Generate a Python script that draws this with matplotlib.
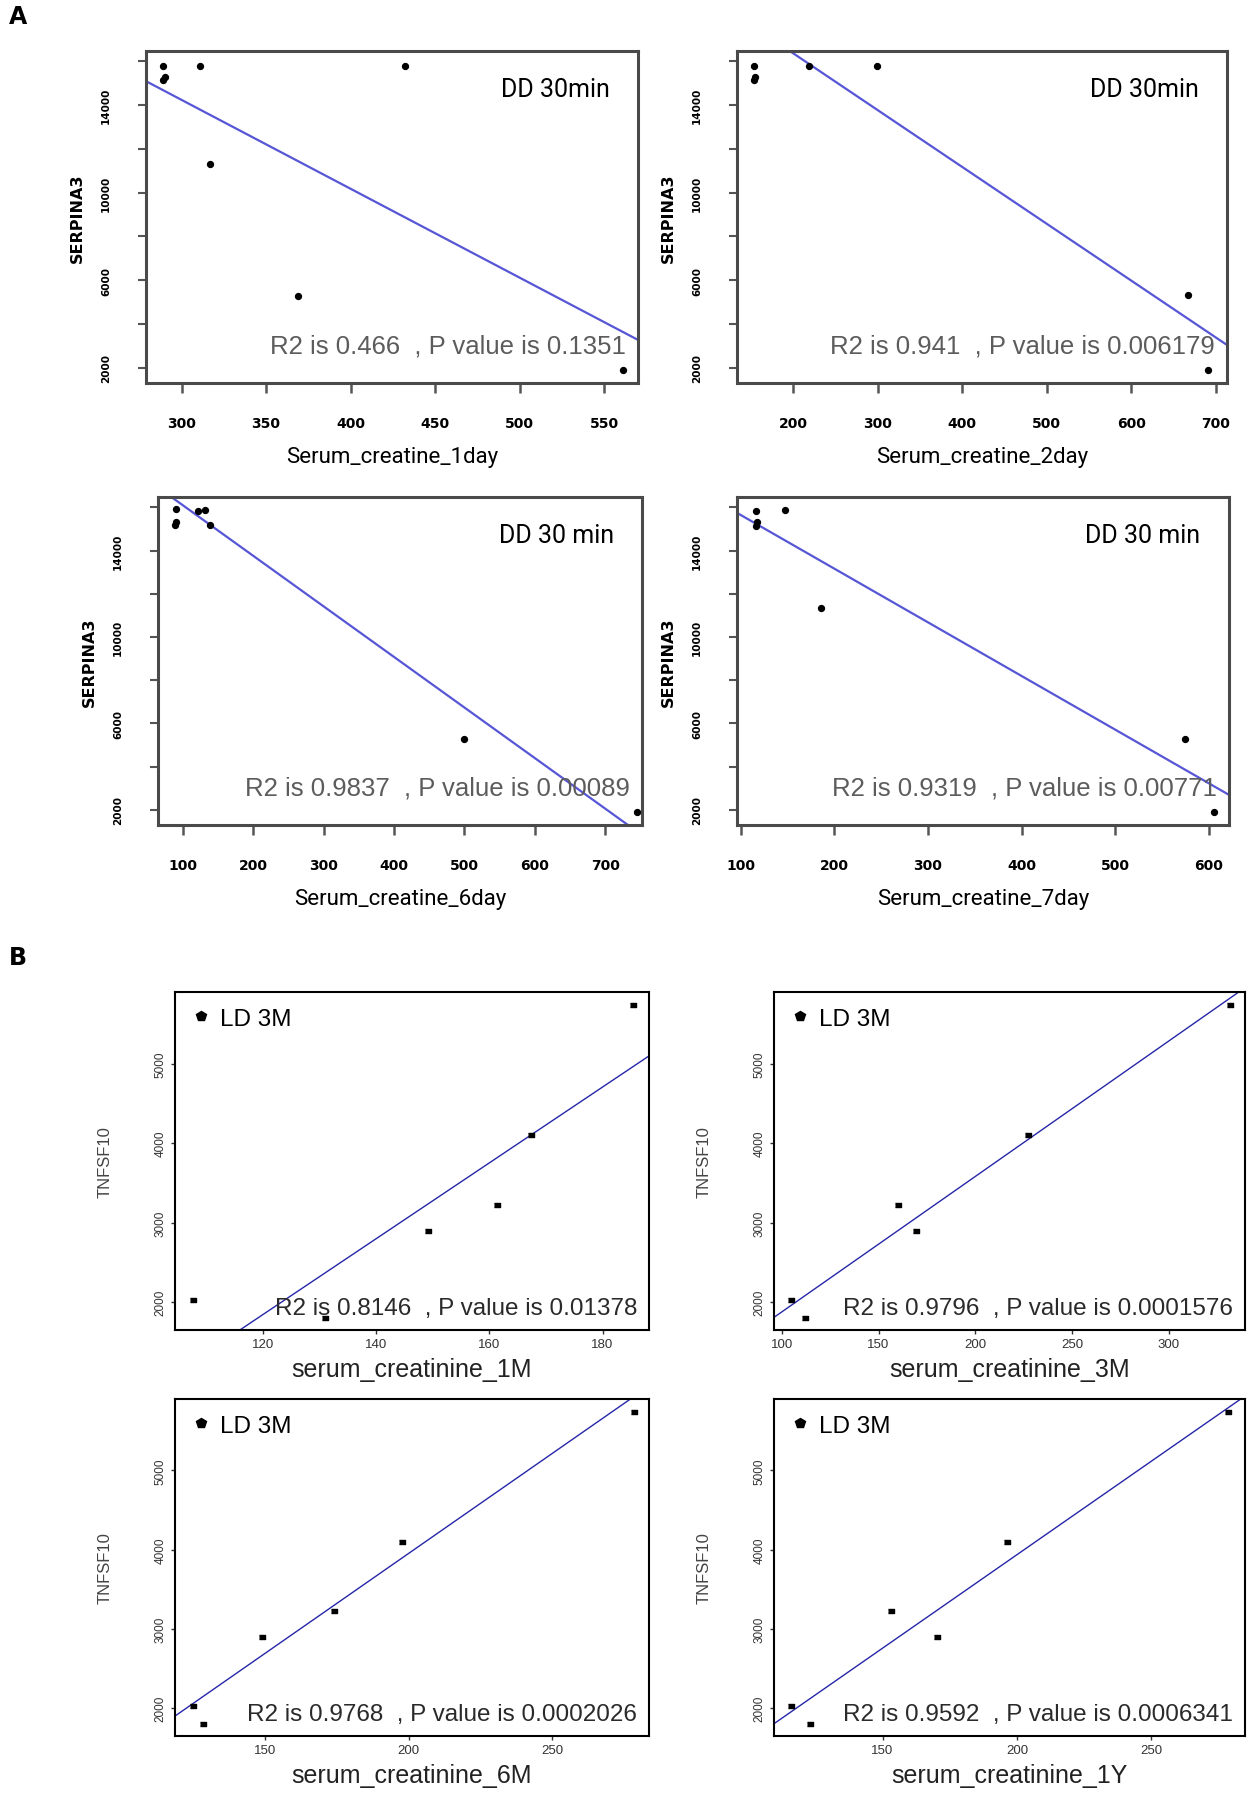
import matplotlib
matplotlib.use('Agg')
import matplotlib.pyplot as plt
from matplotlib.lines import Line2D
import numpy as np

# ---- panel A: SERPINA3 vs serum creatine (DD 30 min) ----
a1_x = [289, 289, 290, 311, 317, 369, 432, 561]
a1_y = [15800, 15150, 15300, 15800, 11300, 5300, 15800, 1890]
a2_x = [154, 154, 155, 219, 299, 667, 690]
a2_y = [15800, 15150, 15300, 15800, 15800, 5310, 1890]
a3_x = [91, 89, 90, 122, 132, 139, 500, 745]
a3_y = [15930, 15200, 15300, 15820, 15860, 15190, 5300, 1890]
a4_x = [116, 116, 117, 147, 186, 575, 606]
a4_y = [15820, 15150, 15300, 15900, 11330, 5270, 1890]
a_slope = [-40.65, -26.0, -23.42, -24.83]
a_icpt = [26441, 21576, 18446, 18129]
a_xlim = [(279, 570), (133.6, 713), (65, 752), (96, 621.6)]
a_xticks = [[300, 350, 400, 450, 500, 550], [200, 300, 400, 500, 600, 700],
            [100, 200, 300, 400, 500, 600, 700], [100, 200, 300, 400, 500, 600]]
a_yticks = [2000, 4000, 6000, 8000, 10000, 12000, 14000, 16000]
a_ylabels = ['2000', '', '6000', '', '10000', '', '14000', '']
a_stats = ['R2 is 0.466  , P value is 0.1351', 'R2 is 0.941  , P value is 0.006179',
           'R2 is 0.9837  , P value is 0.00089', 'R2 is 0.9319  , P value is 0.00771']
a_tags = ['DD 30min', 'DD 30min', 'DD 30 min', 'DD 30 min']
a_xlab = ['Serum_creatine_1day', 'Serum_creatine_2day', 'Serum_creatine_6day', 'Serum_creatine_7day']

# ---- panel B: TNFSF10 vs serum creatinine (LD 3M) ----
tnfsf10 = [2030, 1805, 2900, 3222, 4100, 5740]
b1_x = [107.7, 130.9, 149.1, 161.3, 167.4, 185.4]
b2_x = [104.6, 112.0, 169.2, 159.8, 227.4, 331.3]
b3_x = [124.9, 128.3, 149.0, 173.9, 197.8, 278.6]
b4_x = [116.1, 123.0, 170.2, 153.2, 196.3, 278.7]
b_slope = [47.7, 17.04, 25.22, 23.57]
b_icpt = [-3881, 173, -1092, -778]
b_xlim = [(104.5, 188.2), (96, 339.3), (118.7, 283.7), (109.6, 284.9)]
b_xticks = [[120, 140, 160, 180], [100, 150, 200, 250, 300], [150, 200, 250], [150, 200, 250]]
b_yticks = [2000, 3000, 4000, 5000]
b_stats = ['R2 is 0.8146  , P value is 0.01378', 'R2 is 0.9796  , P value is 0.0001576',
           'R2 is 0.9768  , P value is 0.0002026', 'R2 is 0.9592  , P value is 0.0006341']
b_xlab = ['serum_creatinine_1M', 'serum_creatinine_3M', 'serum_creatinine_6M', 'serum_creatinine_1Y']

W, H = 1251, 1806
fig = plt.figure(figsize=(W / 100, H / 100), dpi=100)

def rect(l, r, t, b):
    return [l / W, 1 - b / H, (r - l) / W, (b - t) / H]

a_rects = [rect(146, 638, 52, 384), rect(737, 1227, 52, 384),
           rect(158, 642, 498, 826), rect(737, 1229, 498, 826)]
b_rects = [rect(175, 649, 993, 1331), rect(774, 1245, 993, 1331),
           rect(175, 649, 1400, 1737), rect(774, 1245, 1400, 1737)]

# flat little bar used for the points in panel B
bar_marker = [(-1, -0.55), (1, -0.55), (1, 0.55), (-1, 0.55)]

a_xs = [a1_x, a2_x, a3_x, a4_x]
a_ys = [a1_y, a2_y, a3_y, a4_y]
for i in range(4):
    ax = fig.add_axes(a_rects[i])
    ax.scatter(a_xs[i], a_ys[i], s=18, color='black', zorder=3)
    xx = np.array(a_xlim[i])
    ax.plot(xx, a_icpt[i] + a_slope[i] * xx, color='#5656d6', lw=1.6)
    ax.set_xlim(a_xlim[i])
    ax.set_ylim(1300, 16480)
    ax.set_xticks(a_xticks[i])
    ax.set_xticklabels([str(t) for t in a_xticks[i]], fontsize=10, fontweight='bold', family='DejaVu Sans')
    ax.set_yticks(a_yticks)
    ax.set_yticklabels(a_ylabels, fontsize=7.5, fontweight='bold', rotation=90, va='center',
                       family='DejaVu Sans')
    ax.tick_params(axis='x', length=7, width=1.8, color='#555555', pad=17)
    ax.tick_params(axis='y', length=6, width=1.5, color='#555555', pad=19)
    for sp in ax.spines.values():
        sp.set_color('#4a4a4a')
        sp.set_linewidth(2.2)
    ax.set_xlabel(a_xlab[i], fontsize=16, family='Roboto', labelpad=11)
    ax.set_ylabel('SERPINA3', fontsize=11.5, fontweight='bold', family='DejaVu Sans', labelpad=12)
    ax.text(0.975, 0.113, a_stats[i], transform=ax.transAxes, ha='right', va='center',
            fontsize=18.5, family='Liberation Sans', color='#5c5c5c')
    ax.text(0.942, 0.885, a_tags[i], transform=ax.transAxes, ha='right', va='center',
            fontsize=18, family='Roboto', color='black')

b_xs = [b1_x, b2_x, b3_x, b4_x]
for i in range(4):
    ax = fig.add_axes(b_rects[i])
    ax.scatter(b_xs[i], tnfsf10, s=16, marker=bar_marker, color='black', zorder=3)
    xx = np.array(b_xlim[i])
    ax.plot(xx, b_icpt[i] + b_slope[i] * xx, color='#2626a8', lw=1.0)
    ax.set_xlim(b_xlim[i])
    ax.set_ylim(1650, 5900)
    ax.set_xticks(b_xticks[i])
    ax.set_xticklabels([str(t) for t in b_xticks[i]], fontsize=9.5, family='Liberation Sans',
                       color='#333333')
    ax.set_yticks(b_yticks)
    ax.set_yticklabels([str(t) for t in b_yticks], fontsize=8.5, rotation=90, va='center',
                       family='Liberation Sans', color='#333333')
    ax.tick_params(axis='both', length=3, width=1.0, color='#333333', pad=3)
    for sp in ax.spines.values():
        sp.set_color('black')
        sp.set_linewidth(1.5)
    ax.set_xlabel(b_xlab[i], fontsize=18, family='Liberation Sans', color='#222222', labelpad=5)
    ax.set_ylabel('TNFSF10', fontsize=12, family='Liberation Sans', color='#444444', labelpad=30)
    ax.text(0.975, 0.065, b_stats[i], transform=ax.transAxes, ha='right', va='center',
            fontsize=17.5, family='Liberation Sans', color='#2a2a2a')
    handle = Line2D([], [], linestyle='none', marker='p', markersize=7, color='black')
    ax.legend([handle], ['LD 3M'], loc='upper left', frameon=False, handletextpad=0.4,
              handlelength=0.8, borderaxespad=0.25, prop={'family': 'Liberation Sans', 'size': 17.5})

fig.text(9 / W, 1 - 17 / H, 'A', fontsize=17, fontweight='bold', va='center', ha='left')
fig.text(9 / W, 1 - 958 / H, 'B', fontsize=17, fontweight='bold', va='center', ha='left')

fig.savefig('out.png', dpi=100)
